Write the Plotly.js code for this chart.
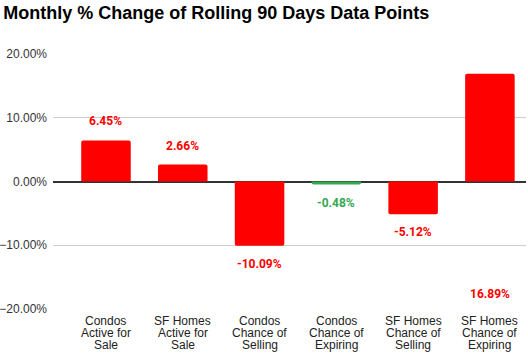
<!DOCTYPE html>
<html>
<head>
<meta charset="utf-8">
<script src="https://cdn.plot.ly/plotly-3.0.1.min.js"></script>
<style>html,body{margin:0;padding:0;background:#fff;}#chart{width:528px;height:359px;}</style>
</head>
<body>
<div id="chart"></div>
<script>
var categories = ["Condos<br>Active for<br>Sale", "SF Homes<br>Active for<br>Sale", "Condos<br>Chance of<br>Selling", "Condos<br>Chance of<br>Expiring", "SF Homes<br>Chance of<br>Selling", "SF Homes<br>Chance of<br>Expiring"];
var values = [6.45, 2.66, -10.09, -0.48, -5.12, 16.89];
var labels = ["6.45%", "2.66%", "-10.09%", "-0.48%", "-5.12%", "16.89%"];
var labelAnchor = [6.45, 2.66, -10.09, -0.48, -5.12, -14.8];
var barColors = ["#ff0000", "#ff0000", "#ff0000", "#34a853", "#ff0000", "#ff0000"];
var yTickStep = 10;
var xRange = [-0.69, 5.47];

var xIdx = categories.map(function(c, i){ return i; });

var annotations = [];
labels.forEach(function(t, i){
  var up = labelAnchor[i] >= 0;
  annotations.push({
    x: i, y: labelAnchor[i], xref: 'x', yref: 'y',
    text: t, showarrow: false,
    yshift: up ? 19 : -18,
    yanchor: 'middle',
    font: {family: 'Roboto, Arial, sans-serif', size: 12, color: barColors[i], weight: 'bold'}
  });
});
categories.forEach(function(c, i){
  c.split('<br>').forEach(function(line, j){
    annotations.push({
      x: i, y: 0, xref: 'x', yref: 'paper',
      text: line, showarrow: false,
      yanchor: 'middle', yshift: -(11.5 + j * 12),
      font: {family: 'Liberation Sans, Arial, sans-serif', size: 12, color: '#222222'}
    });
  });
});

var trace = {
  type: 'bar',
  x: xIdx,
  y: values,
  marker: {color: barColors, cornerradius: 2},
  hoverinfo: 'none'
};

var layout = {
  width: 528, height: 359,
  margin: {l: 53, r: 2, t: 54, b: 50, pad: 0},
  paper_bgcolor: '#ffffff', plot_bgcolor: '#ffffff',
  showlegend: false,
  bargap: 0.355,
  title: {
    text: '<b>Monthly % Change of Rolling 90 Days Data Points</b>',
    x: 0.006, xanchor: 'left', xref: 'container',
    y: 0.965, yanchor: 'middle', yref: 'container',
    font: {family: 'Liberation Sans, Arial, sans-serif', size: 18, color: '#000000'}
  },
  xaxis: {
    range: xRange,
    showticklabels: false, showgrid: false, zeroline: false,
    showline: false, ticks: '', fixedrange: true
  },
  yaxis: {
    range: [-20, 20],
    tickmode: 'linear', tick0: 0, dtick: yTickStep,
    tickformat: '.2f', ticksuffix: '%', showticksuffix: 'all',
    showgrid: true, gridcolor: '#cccccc', gridwidth: 1,
    zeroline: true, zerolinecolor: '#333333', zerolinewidth: 1.5,
    showline: false, ticks: '',
    ticklabelstandoff: 5,
    tickfont: {family: 'Liberation Sans, Arial, sans-serif', size: 12, color: '#333333'},
    fixedrange: true
  },
  annotations: annotations
};

Plotly.newPlot('chart', [trace], layout, {displayModeBar: false});
</script>
</body>
</html>
